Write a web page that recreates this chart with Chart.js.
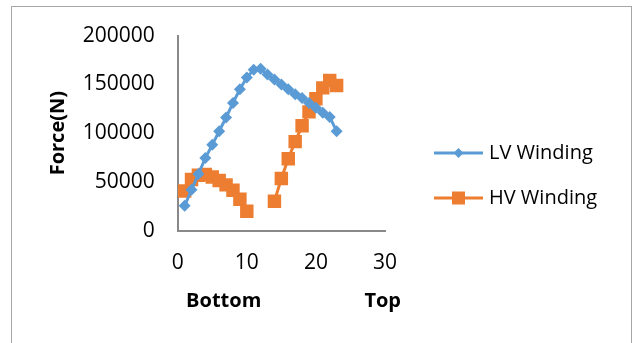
<!DOCTYPE html>
<html>
<head>
<meta charset="utf-8">
<script src="https://cdn.jsdelivr.net/npm/chart.js@4"></script>
<style>
  html, body { margin: 0; padding: 0; background: #fff; }
  #wrap { width: 634px; height: 343px; position: relative; }
</style>
</head>
<body>
<div id="wrap"><canvas id="c" width="634" height="343"></canvas></div>
<script>
// Position along the winding (bottom -> top)
const positions = [1, 2, 3, 4, 5, 6, 7, 8, 9, 10, 11, 12, 13, 14, 15, 16, 17, 18, 19, 20, 21, 22, 23];

// Axial force on the low-voltage winding (N)
const lvForce = [25500, 42000, 58000, 74500, 88000, 102000, 116000, 131000, 145000, 157000, 165000, 166000,
                 160000, 155000, 150000, 145000, 140000, 136000, 131000, 126000, 121000, 116500, 102000];

// Axial force on the high-voltage winding (N); no values between 10 and 14
const hvForce = [40700, 52500, 56800, 57700, 55000, 51500, 47000, 41500, 32200, 20000, null, null,
                 null, 30200, 53500, 73800, 91300, 107500, 121800, 135300, 146400, 154000, 148900];

const seriesNames = ['LV Winding', 'HV Winding'];
const xTicks = [0, 10, 20, 30];
const yTicks = [0, 50000, 100000, 150000, 200000];
const xEndLabels = ['Bottom', 'Top'];

const FONT = '"Open Sans", Lato, "Liberation Sans", sans-serif';
const BLUE = '#5B9BD5';
const ORANGE = '#ED7D31';

function toPoints(vals) {
  return positions.map((p, i) => ({ x: p, y: vals[i] }));
}

// Outer frame, right-hand legend and the Bottom/Top captions
const decor = {
  id: 'decor',
  beforeDraw(chart) {
    const ctx = chart.ctx;
    ctx.save();
    ctx.fillStyle = '#ffffff';
    ctx.fillRect(0, 0, chart.width, chart.height);
    ctx.strokeStyle = '#a6a6a6';
    ctx.lineWidth = 1;
    ctx.strokeRect(11.5, 6.5, 620, 345);
    ctx.restore();
  },
  afterDraw(chart) {
    const ctx = chart.ctx;
    const area = chart.chartArea;
    ctx.save();
    // captions under the x axis
    ctx.font = 'bold 20px ' + FONT;
    ctx.fillStyle = '#000';
    ctx.textAlign = 'center';
    ctx.textBaseline = 'middle';
    ctx.fillText(xEndLabels[0], area.left + 46, 301);
    ctx.fillText(xEndLabels[1], area.left + 205, 301);

    // legend
    const lx0 = 434, lx1 = 483, rows = [153, 198];
    chart.data.datasets.forEach((ds, i) => {
      const y = rows[i];
      ctx.strokeStyle = ds.borderColor;
      ctx.lineWidth = 3;
      ctx.beginPath();
      ctx.moveTo(lx0, y);
      ctx.lineTo(lx1, y);
      ctx.stroke();
      const mx = (lx0 + lx1) / 2;
      ctx.fillStyle = ds.backgroundColor;
      ctx.beginPath();
      if (ds.pointStyle === 'rectRot') {
        const r = 5;
        ctx.moveTo(mx, y - r);
        ctx.lineTo(mx + r, y);
        ctx.lineTo(mx, y + r);
        ctx.lineTo(mx - r, y);
        ctx.closePath();
      } else {
        ctx.rect(mx - 6.5, y - 6.5, 13, 13);
      }
      ctx.fill();
      ctx.font = '20px ' + FONT;
      ctx.fillStyle = '#000';
      ctx.textAlign = 'left';
      ctx.textBaseline = 'middle';
      ctx.fillText(ds.label, 489, y);
    });
    ctx.restore();
  }
};

new Chart(document.getElementById('c'), {
  type: 'line',
  data: {
    datasets: [
      {
        label: seriesNames[0],
        data: toPoints(lvForce),
        borderColor: BLUE,
        backgroundColor: BLUE,
        borderWidth: 3,
        pointStyle: 'rectRot',
        pointRadius: 6,
        pointHoverRadius: 6,
        pointBorderWidth: 0,
        tension: 0,
        spanGaps: false
      },
      {
        label: seriesNames[1],
        data: toPoints(hvForce),
        borderColor: ORANGE,
        backgroundColor: ORANGE,
        borderWidth: 3,
        pointStyle: 'rect',
        pointRadius: 9.5,
        pointHoverRadius: 9.5,
        pointBorderWidth: 0,
        tension: 0,
        spanGaps: false
      }
    ]
  },
  options: {
    responsive: false,
    animation: false,
    events: [],
    layout: { padding: { left: 0, top: 34, right: 249, bottom: 0 } },
    plugins: {
      legend: { display: false },
      tooltip: { enabled: false },
      title: { display: false }
    },
    scales: {
      x: {
        type: 'linear',
        min: 0,
        max: 30,
        afterBuildTicks(scale) { scale.ticks = xTicks.map(v => ({ value: v })); },
        afterFit(scale) { scale.height = 112.3; },
        grid: { display: false, drawTicks: false },
        border: { display: true, color: '#898989', width: 2 },
        ticks: { color: '#000', padding: 20, font: { family: FONT, size: 21 } }
      },
      y: {
        type: 'linear',
        min: 0,
        max: 200000,
        afterBuildTicks(scale) { scale.ticks = yTicks.map(v => ({ value: v })); },
        afterFit(scale) { scale.width = 177.7; },
        grid: { display: false, drawTicks: false },
        border: { display: true, color: '#898989', width: 2 },
        ticks: {
          color: '#000',
          padding: 23,
          font: { family: FONT, size: 21 },
          callback: v => String(v)
        },
        title: {
          display: true,
          text: 'Force(N)',
          color: '#000',
          padding: { top: 46, bottom: 0 },
          font: { family: FONT, size: 20, weight: 'bold' }
        }
      }
    }
  },
  plugins: [decor]
});
</script>
</body>
</html>
